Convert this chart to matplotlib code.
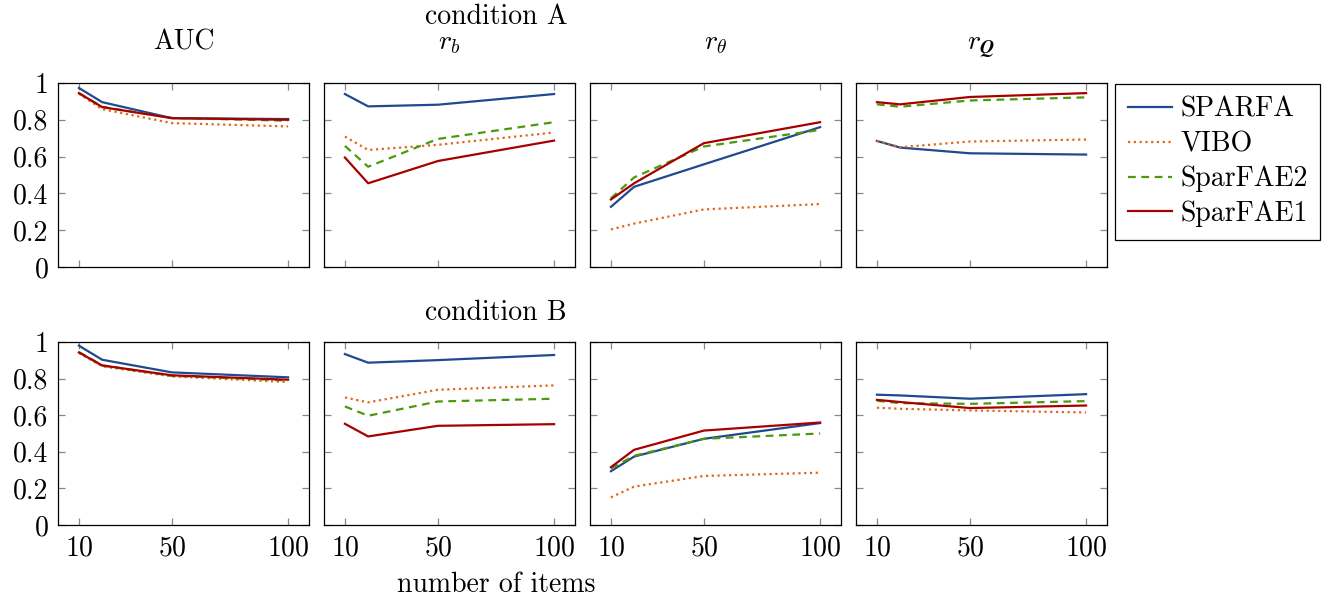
import numpy as np
import matplotlib
matplotlib.use("Agg")
import matplotlib.pyplot as plt
from matplotlib.ticker import FuncFormatter

plt.rcParams['font.family'] = ['cmr10', 'DejaVu Serif']
plt.rcParams['mathtext.fontset'] = 'cm'
plt.rcParams['axes.formatter.use_mathtext'] = True

# number of items
items = [10, 20, 50, 100]
methods = ['SPARFA', 'VIBO', 'SparFAE2', 'SparFAE1']
metrics = ['AUC', r'$r_b$', r'$r_\theta$', r'$r_{\mathbfit{Q}}$']

# condition A: one list per metric, values per method over items
cond_a = {
    'AUC': {
        'SPARFA':   [0.973, 0.896, 0.809, 0.804],
        'VIBO':     [0.942, 0.858, 0.782, 0.764],
        'SparFAE2': [0.945, 0.870, 0.810, 0.795],
        'SparFAE1': [0.945, 0.869, 0.809, 0.800],
    },
    'rb': {
        'SPARFA':   [0.940, 0.873, 0.882, 0.940],
        'VIBO':     [0.709, 0.636, 0.664, 0.731],
        'SparFAE2': [0.658, 0.545, 0.696, 0.787],
        'SparFAE1': [0.595, 0.455, 0.576, 0.687],
    },
    'rtheta': {
        'SPARFA':   [0.327, 0.436, 0.558, 0.760],
        'VIBO':     [0.204, 0.236, 0.313, 0.342],
        'SparFAE2': [0.373, 0.487, 0.655, 0.745],
        'SparFAE1': [0.367, 0.455, 0.673, 0.787],
    },
    'rQ': {
        'SPARFA':   [0.685, 0.649, 0.618, 0.611],
        'VIBO':     [0.685, 0.651, 0.682, 0.693],
        'SparFAE2': [0.884, 0.871, 0.905, 0.922],
        'SparFAE1': [0.896, 0.884, 0.924, 0.945],
    },
}

# condition B
cond_b = {
    'AUC': {
        'SPARFA':   [0.980, 0.903, 0.834, 0.807],
        'VIBO':     [0.940, 0.867, 0.812, 0.781],
        'SparFAE2': [0.945, 0.872, 0.815, 0.790],
        'SparFAE1': [0.943, 0.872, 0.818, 0.794],
    },
    'rb': {
        'SPARFA':   [0.934, 0.887, 0.901, 0.929],
        'VIBO':     [0.697, 0.670, 0.739, 0.763],
        'SparFAE2': [0.648, 0.597, 0.675, 0.690],
        'SparFAE1': [0.553, 0.484, 0.542, 0.551],
    },
    'rtheta': {
        'SPARFA':   [0.294, 0.374, 0.471, 0.557],
        'VIBO':     [0.151, 0.210, 0.268, 0.286],
        'SparFAE2': [0.310, 0.378, 0.471, 0.500],
        'SparFAE1': [0.316, 0.411, 0.516, 0.560],
    },
    'rQ': {
        'SPARFA':   [0.712, 0.708, 0.690, 0.715],
        'VIBO':     [0.641, 0.635, 0.626, 0.615],
        'SparFAE2': [0.679, 0.666, 0.662, 0.677],
        'SparFAE1': [0.684, 0.672, 0.639, 0.653],
    },
}

styles = {
    'SPARFA':   dict(color='#1f4a8f', ls='-'),
    'VIBO':     dict(color='#e0661a', ls=(0, (1, 1.6))),
    'SparFAE2': dict(color='#4a9a0c', ls=(0, (3.5, 2.5))),
    'SparFAE1': dict(color='#a80000', ls='-'),
}

W, H = 1324, 603
fig = plt.figure(figsize=(W / 100, H / 100), dpi=100)

lefts = [58, 324, 590, 856]
pw = 251
rows = [(83, 267), (342, 525)]
keys = ['AUC', 'rb', 'rtheta', 'rQ']
fmt = FuncFormatter(lambda v, p: f"{v:g}")
fs = 20

axes = []
for r, (top, bot) in enumerate(rows):
    data = cond_a if r == 0 else cond_b
    for c, key in enumerate(keys):
        ax = fig.add_axes([lefts[c] / W, 1 - bot / H, pw / W, (bot - top) / H])
        for m in methods:
            ax.plot(items, data[key][m], lw=1.6, label=m, **styles[m])
        ax.set_xlim(1, 109)
        ax.set_ylim(0, 1)
        ax.set_xticks([10, 50, 100])
        ax.set_yticks(np.arange(0, 1.01, 0.2))
        ax.yaxis.set_major_formatter(fmt)
        ax.tick_params(direction='in', length=5, width=0.9, color='#888888',
                       top=True, right=True, labelsize=fs, pad=7)
        for s in ax.spines.values():
            s.set_linewidth(0.9)
        if c > 0:
            ax.tick_params(labelleft=False)
        if r == 0:
            ax.tick_params(labelbottom=False)
            ax.set_title(metrics[c], fontsize=fs, pad=24)
        axes.append(ax)

fig.text(496 / W, 1 - 17 / H, 'condition A', ha='center', va='center', fontsize=fs)
fig.text(496 / W, 1 - 313 / H, 'condition B', ha='center', va='center', fontsize=fs)
fig.text(496 / W, 1 - 585 / H, 'number of items', ha='center', va='center', fontsize=fs)

handles, labels = axes[0].get_legend_handles_labels()
leg = fig.legend(handles, labels, loc='upper left',
                 bbox_to_anchor=(1115 / W, 1 - 84 / H), fontsize=20,
                 frameon=True, fancybox=False, edgecolor='black', framealpha=1,
                 handlelength=1.6, handletextpad=0.3, labelspacing=0.3,
                 borderpad=0.45, borderaxespad=0)
leg.get_frame().set_linewidth(0.9)

fig.savefig('out.png', dpi=100)
